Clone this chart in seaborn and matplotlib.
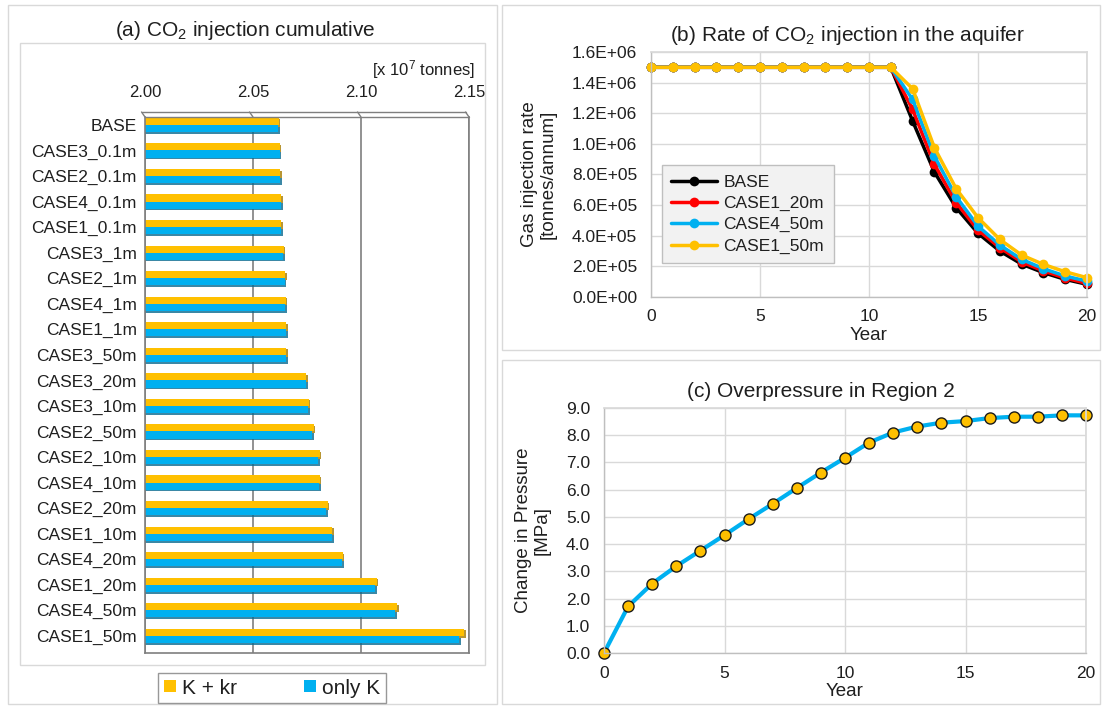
import matplotlib
matplotlib.use("Agg")
import matplotlib.pyplot as plt
from matplotlib.patches import Rectangle
from matplotlib.lines import Line2D
from matplotlib.ticker import FuncFormatter, MultipleLocator
import matplotlib.transforms as mtransforms
import matplotlib.patheffects as pe
import pandas as pd
import seaborn as sns

# ---------------- data ----------------
cases = ["BASE", "CASE3_0.1m", "CASE2_0.1m", "CASE4_0.1m", "CASE1_0.1m",
         "CASE3_1m", "CASE2_1m", "CASE4_1m", "CASE1_1m", "CASE3_50m",
         "CASE3_20m", "CASE3_10m", "CASE2_50m", "CASE2_10m", "CASE4_10m",
         "CASE2_20m", "CASE1_10m", "CASE4_20m", "CASE1_20m", "CASE4_50m",
         "CASE1_50m"]
# cumulative injection [x 10^7 tonnes]
cum_k_kr = [2.0619, 2.0624, 2.0627, 2.0630, 2.0630, 2.0642, 2.0648, 2.0651,
            2.0654, 2.0654, 2.0746, 2.0757, 2.0781, 2.0809, 2.0809, 2.0846,
            2.0868, 2.0915, 2.1073, 2.1166, 2.1478]
cum_only_k = [2.0618, 2.0623, 2.0626, 2.0629, 2.0629, 2.0641, 2.0647, 2.0650,
              2.0653, 2.0653, 2.0745, 2.0755, 2.0775, 2.0803, 2.0806, 2.0840,
              2.0865, 2.0912, 2.1067, 2.1157, 2.1456]
model_names = ["K + kr", "only K"]

years = [0, 1, 2, 3, 4, 5, 6, 7, 8, 9, 10, 11, 12, 13, 14, 15, 16, 17, 18, 19, 20]
# injection rate [tonnes/annum]
rate_base = [1.5e6, 1.5e6, 1.5e6, 1.5e6, 1.5e6, 1.5e6, 1.5e6, 1.5e6, 1.5e6,
             1.5e6, 1.5e6, 1.5e6, 1.150e6, 0.816e6, 0.583e6, 0.416e6,
             0.300e6, 0.215e6, 0.159e6, 0.115e6, 0.083e6]
rate_case1_20m = [1.5e6, 1.5e6, 1.5e6, 1.5e6, 1.5e6, 1.5e6, 1.5e6, 1.5e6,
                  1.5e6, 1.5e6, 1.5e6, 1.5e6, 1.225e6, 0.866e6, 0.616e6,
                  0.437e6, 0.322e6, 0.229e6, 0.170e6, 0.124e6, 0.089e6]
rate_case4_50m = [1.5e6, 1.5e6, 1.5e6, 1.5e6, 1.5e6, 1.5e6, 1.5e6, 1.5e6,
                  1.5e6, 1.5e6, 1.5e6, 1.5e6, 1.290e6, 0.920e6, 0.655e6,
                  0.463e6, 0.339e6, 0.246e6, 0.185e6, 0.137e6, 0.104e6]
rate_case1_50m = [1.5e6, 1.5e6, 1.5e6, 1.5e6, 1.5e6, 1.5e6, 1.5e6, 1.5e6,
                  1.5e6, 1.5e6, 1.5e6, 1.5e6, 1.360e6, 0.975e6, 0.707e6,
                  0.518e6, 0.376e6, 0.274e6, 0.213e6, 0.165e6, 0.126e6]
rate_names = ["BASE", "CASE1_20m", "CASE4_50m", "CASE1_50m"]
rate_colors = ["#000000", "#FF0000", "#00B0F0", "#FFC000"]

# overpressure in region 2 [MPa]
overpressure = [0.0, 1.71, 2.55, 3.19, 3.76, 4.33, 4.92, 5.48, 6.06, 6.63,
                7.17, 7.73, 8.10, 8.32, 8.46, 8.52, 8.63, 8.68, 8.68, 8.73, 8.73]

# ---------------- style ----------------
sns.set_theme(style="white")
plt.rcParams["font.family"] = ["Liberation Sans", "DejaVu Sans"]
plt.rcParams["mathtext.fontset"] = "custom"
plt.rcParams["mathtext.rm"] = "Liberation Sans"
plt.rcParams["mathtext.it"] = "Liberation Sans"
TXT = "#1f1f1f"
GRID = "#d9d9d9"
YELLOW = "#FFC000"
BLUE = "#00B0F0"

W, H = 1103, 706
fig = plt.figure(figsize=(W / 100, H / 100), dpi=100)
fig.patch.set_facecolor("white")


def box(l, t, r, b):
    return [l / W, 1 - b / H, (r - l) / W, (b - t) / H]


def frame(l, t, r, b, color=GRID):
    fig.add_artist(Rectangle((l / W, 1 - b / H), (r - l) / W, (b - t) / H,
                             transform=fig.transFigure, fill=False,
                             edgecolor=color, linewidth=1.0))


# panel frames
frame(8, 5, 497, 704)
frame(20, 43, 485, 665)
frame(502, 5, 1100, 350)
frame(502, 360, 1100, 704)

# ---------------- (a) cumulative injection bars ----------------
ax_a = fig.add_axes(box(145, 117, 469, 653))
df_a = pd.DataFrame({
    "case": cases * 2,
    "value": cum_k_kr + cum_only_k,
    "model": [model_names[0]] * len(cases) + [model_names[1]] * len(cases),
})
sns.barplot(data=df_a, y="case", x="value", hue="model", orient="h",
            palette=[YELLOW, BLUE], width=0.56, ax=ax_a, legend=False,
            linewidth=0, saturation=1)
# give the bars a slight bevelled look
for patch, container_idx in zip(ax_a.patches, [0] * len(cases) + [1] * len(cases)):
    shade = "#a67c00" if container_idx == 0 else "#0a6a90"
    patch.set_path_effects([pe.SimplePatchShadow(offset=(1.2, -1.2),
                                                 shadow_rgbFace=shade, alpha=0.8),
                            pe.Normal()])
ax_a.set_xlim(2.00, 2.15)
ax_a.set_ylim(20.67, -0.31)
ax_a.xaxis.tick_top()
ax_a.set_xticks([2.00, 2.05, 2.10, 2.15])
ax_a.xaxis.set_major_formatter(FuncFormatter(lambda v, p: f"{v:.2f}"))
ax_a.tick_params(axis="x", length=0, pad=12, labelsize=12, labelcolor=TXT)
ax_a.tick_params(axis="y", length=0, pad=6, labelsize=12.5, labelcolor=TXT)
ax_a.set_xlabel("")
ax_a.set_ylabel("")
ax_a.set_axisbelow(True)
ax_a.xaxis.grid(True, color="#7f7f7f", linewidth=1.2)
ax_a.yaxis.grid(False)
for side in ["left", "bottom", "right"]:
    ax_a.spines[side].set_color("#7f7f7f")
    ax_a.spines[side].set_linewidth(1.2)
ax_a.spines["top"].set_visible(False)

# 3-D style top rim of the plot box
rim = mtransforms.blended_transform_factory(ax_a.transData, ax_a.transAxes)
back = rim + mtransforms.ScaledTranslation(-3.5 / 100, 5 / 100, fig.dpi_scale_trans)
ax_a.plot([2.00, 2.15], [1, 1], transform=rim, color="#7f7f7f", lw=1.0, clip_on=False)
ax_a.plot([2.00, 2.15], [1, 1], transform=back, color="#7f7f7f", lw=1.0, clip_on=False)
for xv in [2.00, 2.05, 2.10, 2.15]:
    ax_a.annotate("", xy=(xv, 1), xycoords=rim, xytext=(-2.5, 3.6),
                  textcoords="offset points",
                  arrowprops=dict(arrowstyle="-", color="#7f7f7f", lw=1.0,
                                  shrinkA=0, shrinkB=0))

fig.text(475 / W, 1 - 70 / H, r"[x 10$^7$ tonnes]", ha="right", va="center",
         fontsize=12, color=TXT)
fig.text(245 / W, 1 - 30 / H, r"(a) CO$_2$ injection cumulative",
         ha="center", va="center", fontsize=15, color=TXT)

leg_handles = [Line2D([], [], marker="s", linestyle="none", markersize=8,
                      markerfacecolor=c, markeredgewidth=0)
               for c in [YELLOW, BLUE]]
fig.legend(leg_handles, model_names, loc="center", ncol=2,
           bbox_to_anchor=(272 / W, 1 - 688 / H), fontsize=15, frameon=True,
           fancybox=False, edgecolor="#7f7f7f", handlelength=0.6,
           handletextpad=0.3, columnspacing=3.2, borderpad=0.25,
           labelcolor=TXT).get_frame().set_linewidth(1.0)

# ---------------- (b) injection rate ----------------
ax_b = fig.add_axes(box(651, 52, 1087, 297))
for name, vals, col in zip(rate_names,
                           [rate_base, rate_case1_20m, rate_case4_50m, rate_case1_50m],
                           rate_colors):
    sns.lineplot(x=years, y=vals, ax=ax_b, color=col, marker="o",
                 markersize=7, markeredgewidth=0, linewidth=2.5, label=name)
for ln in ax_b.lines:
    ln.set_clip_on(False)
ax_b.set_xlim(0, 20)
ax_b.set_ylim(0, 1.6e6)
ax_b.xaxis.set_major_locator(MultipleLocator(5))
ax_b.yaxis.set_major_locator(MultipleLocator(2e5))
ax_b.yaxis.set_major_formatter(FuncFormatter(lambda v, p: f"{v:.1E}"))
ax_b.set_title(r"(b) Rate of CO$_2$ injection in the aquifer", fontsize=15,
               color=TXT, pad=8, x=0.45)
ax_b.set_xlabel("Year", fontsize=13.5, color=TXT, labelpad=2)
ax_b.set_ylabel("Gas injection rate\n[tonnes/annum]", fontsize=13.5,
                color=TXT, va="center", linespacing=1.1)
ax_b.yaxis.set_label_coords(-0.257, 0.5)
leg_b = ax_b.legend(loc="upper left", bbox_to_anchor=(0.025, 0.539),
                    fontsize=12.5, frameon=True, fancybox=False,
                    facecolor="#f2f2f2", edgecolor="#bfbfbf", framealpha=1,
                    handlelength=2.6, handletextpad=0.4, labelspacing=0.35,
                    borderpad=0.55, borderaxespad=0, labelcolor=TXT)
leg_b.get_frame().set_linewidth(1.0)

# ---------------- (c) overpressure ----------------
ax_c = fig.add_axes(box(604, 408, 1086, 653))
sns.lineplot(x=years, y=overpressure, ax=ax_c, color=BLUE, linewidth=3,
             marker="o", markersize=8, markerfacecolor=YELLOW,
             markeredgecolor="#1a1a1a", markeredgewidth=1.0)
for ln in ax_c.lines:
    ln.set_clip_on(False)
ax_c.set_xlim(0, 20)
ax_c.set_ylim(0, 9)
ax_c.xaxis.set_major_locator(MultipleLocator(5))
ax_c.yaxis.set_major_locator(MultipleLocator(1))
ax_c.yaxis.set_major_formatter(FuncFormatter(lambda v, p: f"{v:.1f}"))
ax_c.set_title("(c) Overpressure in Region 2", fontsize=15, color=TXT,
               pad=8, x=0.45)
ax_c.set_xlabel("Year", fontsize=13.5, color=TXT, labelpad=2)
ax_c.set_ylabel("Change in Pressure\n[MPa]", fontsize=13.5, color=TXT,
                va="center", linespacing=1.1)
ax_c.yaxis.set_label_coords(-0.147, 0.5)

for ax in (ax_b, ax_c):
    ax.grid(True, color=GRID, linewidth=1.0)
    ax.set_axisbelow(True)
    ax.tick_params(length=0, labelsize=12.5, labelcolor=TXT)
    ax.tick_params(axis="y", pad=10)
    ax.tick_params(axis="x", pad=9)
    for side in ["top", "right"]:
        ax.spines[side].set_color(GRID)
    for side in ["left", "bottom"]:
        ax.spines[side].set_color("#bfbfbf")
        ax.spines[side].set_linewidth(1.0)

fig.savefig("out.png", dpi=100, facecolor="white")
